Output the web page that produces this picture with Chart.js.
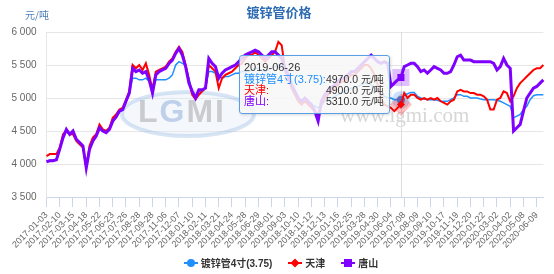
<!DOCTYPE html>
<html>
<head>
<meta charset="utf-8">
<script src="https://cdn.jsdelivr.net/npm/chart.js@4.4.1/dist/chart.umd.min.js"></script>
<style>
body { margin: 0; background: #fff; }
#wrap { position: relative; width: 554px; height: 274px; font-family: "Liberation Sans", "Noto Sans CJK SC", sans-serif; }
#legend { position: absolute; left: 4px; top: 255px; width: 554px; text-align: center; font-size: 10px; font-weight: bold; color: #333; }
.item { display: inline-block; margin: 0 8px; white-space: nowrap; }
.sym { position: relative; display: inline-block; width: 14px; height: 10px; vertical-align: -1px; margin-right: 3px; }
.sym i { position: absolute; left: 0; top: 4px; width: 14px; height: 2px; }
.sym b { position: absolute; left: 3px; top: 1px; width: 8px; height: 8px; }
#tip { position: absolute; display: none; background: rgba(247,247,247,0.85); border: 1px solid #5a9fe6; border-radius: 3px;
       box-shadow: 1px 1px 3px rgba(0,0,0,0.15); padding: 5px 5px 6px 4px; font-size: 11px; color: #333; white-space: nowrap; }
#tip .d { margin: 0 0 1px 0; color: #333; }
#tip table { border-collapse: collapse; }
#tip td { padding: 0; line-height: 11px; }
#tip td.v { font-size: 10.5px; }
#tip .u { font-size: 10px; }
</style>
</head>
<body>
<div id="wrap">
  <canvas id="chart" width="554" height="274"></canvas>
  <div id="legend"></div>
  <div id="tip"></div>
</div>
<script>
// 数据：每个刻度区间取4个点
const seriesNames = ['镀锌管4寸(3.75)', '天津', '唐山'];
const seriesColors = ['#1e90ff', '#ff0000', '#8000ff'];
const pointsPerTick = 4;

const tickLabels = [
  '2017-01-03', '2017-02-10', '2017-03-15', '2017-04-18', '2017-05-22', '2017-06-23', '2017-07-26',
  '2017-08-28', '2017-09-28', '2017-11-06', '2017-12-07', '2018-01-10', '2018-02-11', '2018-03-21',
  '2018-04-24', '2018-05-28', '2018-06-29', '2018-08-01', '2018-09-03', '2018-10-10', '2018-11-12',
  '2018-12-13', '2019-01-16', '2019-02-25', '2019-03-28', '2019-04-30', '2019-06-04', '2019-07-08',
  '2019-08-09', '2019-09-10', '2019-10-17', '2019-11-19', '2019-12-20', '2020-01-22', '2020-03-02',
  '2020-04-02', '2020-05-08', '2020-06-09'
];

// 悬停提示所在的点
const tooltipIndex = 107;
const tooltipDate = '2019-06-26';

const pipeValues = [
  4040, 4060, 4060, 4070, 4220, 4390, 4500, 4450, 4490, 4380, 4330, 4280, 3960,
  4230, 4340, 4420, 4530, 4500, 4480, 4520, 4640, 4700, 4790, 4820, 4940, 5060,
  5300, 5300, 5275, 5275, 5300, 5250, 5100, 5275, 5275, 5275, 5275, 5300, 5350, 5500, 5550,
  5525, 5500, 5300, 5100, 5000, 5100, 5100, 5150, 5400, 5400, 5375, 5325, 5300, 5325, 5325,
  5350, 5375, 5375, 5400, 5400, 5400,
  5425, 5450, 5450, 5425, 5400, 5425, 5450, 5475, 5500, 5500, 5400, 5300, 5200, 5100, 5000,
  4950, 4950, 4925, 4900, 4875, 4850, 4900, 4950, 4975, 5000, 5025, 5050, 5075, 5100, 5125,
  5150, 5150, 5175, 5200, 5225, 5225, 5200, 5150, 5100, 5050, 5025, 5000,
  5000, 4975, 4975, 4970, 5050, 5065, 5085, 5085, 5025, 5000, 4985, 4975, 4975, 4975, 4965,
  4950, 4950, 4950, 4975, 5000, 5050, 5050, 5025, 5025, 5000, 5000, 5000, 4985, 4975, 4975,
  4975, 4975, 4965, 4950, 4925, 4900, 4875, 4700, 4725, 4750, 4825, 4875, 4975, 5035, 5050,
  5050, 5050
];

const tianjinValues = [
  4120, 4150, 4150, 4150, 4250, 4450, 4500, 4450, 4450, 4350, 4300, 4250, 3960,
  4275, 4400, 4450, 4600, 4525, 4500, 4550, 4700, 4750, 4825, 4850, 4975, 5100,
  5500, 5450, 5500, 5425, 5525, 5350, 5125, 5400, 5425, 5450, 5475, 5550, 5600, 5700, 5775,
  5700, 5500, 5250, 5050, 4980, 5050, 5100, 5150, 5500, 5450, 5400, 5150, 5300, 5350, 5375,
  5400, 5450, 5500, 5525, 5600, 5650,
  5650, 5700, 5650, 5600, 5550, 5600, 5650, 5700, 5850, 5800, 5450,
  5300, 5150, 5050, 4950, 4900, 4950, 4900, 4850, 4800, 4750, 4900, 5000, 5050, 5100, 5150,
  5200, 5250, 5250, 5300, 5350, 5350, 5400, 5450, 5500, 5500, 5450, 5350, 5200, 5000, 4900, 4875,
  4850, 4800, 4850, 4900, 5075, 5000, 5050, 5050, 5000, 4975, 5000, 4975, 5000, 4975, 5000,
  4950, 4925, 4900, 4950, 4975, 5100, 5125, 5100, 5100, 5075, 5075, 5050, 5050, 5025, 4975,
  4825, 4825, 4975, 5000, 5100, 5075, 4950, 5025, 5150, 5225, 5275, 5325, 5375, 5425, 5450,
  5450, 5500
];

const tangshanValues = [
  4035, 4050, 4050, 4065, 4225, 4400, 4525, 4450, 4500, 4375, 4325, 4275, 3940,
  4225, 4350, 4425, 4550, 4500, 4475, 4525, 4650, 4715, 4800, 4825, 4950, 5075,
  5450, 5400, 5425, 5375, 5400, 5275, 5075, 5350, 5400, 5425, 5450, 5525, 5575, 5675, 5750,
  5650, 5475, 5225, 5100, 5000, 5125, 5125, 5150, 5600, 5525, 5475, 5300, 5375, 5425, 5450,
  5475, 5500, 5550, 5600, 5650, 5675,
  5700, 5725, 5700, 5650, 5600, 5650, 5700, 5700, 5650, 5600, 5450,
  5350, 5200, 5100, 5000, 4950, 5000, 4950, 4900, 4800, 4650, 4950, 5050, 5100, 5150, 5200,
  5250, 5300, 5300, 5350, 5400, 5400, 5450, 5500, 5550, 5600, 5650, 5600, 5550, 5525, 5550, 5525,
  5175, 5225, 5275, 5310, 5475, 5500, 5525, 5525, 5475, 5400, 5425, 5375, 5425, 5475, 5450,
  5425, 5375, 5375, 5400, 5500, 5625, 5650, 5575, 5575, 5575, 5550, 5550, 5550, 5550, 5550,
  5550, 5525, 5425, 5475, 5600, 5500, 5450, 4500, 4550, 4600, 4800, 5000, 5075, 5150, 5175,
  5225, 5275
];

// 类别标签：只有刻度位置和提示点有日期
const labels = pipeValues.map((v, i) => (i % pointsPerTick === 0 ? tickLabels[i / pointsPerTick] : ''));
labels[tooltipIndex] = tooltipDate;

const allValues = [pipeValues, tianjinValues, tangshanValues];
const pointStyles = ['circle', 'rectRot', 'rect'];
const lineWidths = [1.5, 2, 3];
const haloColors = ['rgba(30,144,255,0.25)', 'rgba(255,0,0,0.25)', 'rgba(128,0,255,0.25)'];

const datasets = seriesNames.map((name, k) => ({
  label: name,
  data: allValues[k],
  borderColor: seriesColors[k],
  backgroundColor: seriesColors[k],
  borderWidth: lineWidths[k],
  pointRadius: 0,
  pointStyle: pointStyles[k],
  pointHoverRadius: k === 2 ? 5 : 4,
  pointHoverBackgroundColor: seriesColors[k],
  pointHoverBorderColor: haloColors[k],
  pointHoverBorderWidth: 10,
  tension: 0,
  order: 3 - k   // 唐山画在最上面
}));

function fmtThousands(v) {
  return String(v).replace(/\B(?=(\d{3})+(?!\d))/g, ' ');
}

// 背景水印
const watermark = {
  id: 'watermark',
  beforeDatasetsDraw(chart) {
    const ctx = chart.ctx;
    ctx.save();
    ctx.globalAlpha = 0.4;
    ctx.beginPath();
    ctx.ellipse(188, 114, 66, 22, 0, 0, Math.PI * 2);
    ctx.fillStyle = '#e3ecf7';
    ctx.fill();
    ctx.lineWidth = 4;
    ctx.strokeStyle = '#9dbde3';
    ctx.stroke();
    ctx.font = 'bold 32px "Liberation Sans"';
    ctx.textBaseline = 'middle';
    ctx.textAlign = 'left';
    const letters = ['L', 'G', 'M', 'I'];
    const cols = ['#8a8a8a', '#6f97cf', '#8a8a8a', '#8a8a8a'];
    let x = 138;
    letters.forEach((ch, n) => {
      ctx.fillStyle = cols[n];
      ctx.fillText(ch, x, 113);
      x += ctx.measureText(ch).width + 2;
    });
    ctx.globalAlpha = 0.35;
    ctx.font = '21px "Liberation Serif"';
    ctx.fillStyle = '#8a8a8a';
    ctx.fillText('www.lgmi.com', 340, 116);
    ctx.restore();
  }
};

// 悬停竖线
const crosshair = {
  id: 'crosshair',
  beforeDatasetsDraw(chart) {
    const act = chart.getActiveElements();
    if (!act.length) return;
    const a = chart.chartArea;
    const x = Math.round(act[0].element.x) + 0.5;
    const ctx = chart.ctx;
    ctx.save();
    ctx.strokeStyle = '#dddddd';
    ctx.lineWidth = 1;
    ctx.beginPath();
    ctx.moveTo(x, a.top);
    ctx.lineTo(x, a.bottom);
    ctx.stroke();
    ctx.restore();
  }
};

// 标题和单位
const headings = {
  id: 'headings',
  afterDraw(chart) {
    const ctx = chart.ctx;
    ctx.save();
    ctx.textBaseline = 'middle';
    ctx.textAlign = 'center';
    ctx.fillStyle = '#2d6cb3';
    ctx.font = 'bold 13px "Noto Sans CJK SC"';
    ctx.fillText('镀锌管价格', 279, 12);
    ctx.textAlign = 'left';
    ctx.fillStyle = '#4d7eb5';
    ctx.font = '10px "Noto Sans CJK SC"';
    ctx.fillText('元/吨', 25, 15);
    ctx.restore();
  }
};

function externalTip(context) {
  const tip = document.getElementById('tip');
  const tt = context.tooltip;
  if (tt.opacity === 0 || !tt.dataPoints || !tt.dataPoints.length) {
    tip.style.display = 'none';
    return;
  }
  const pts = tt.dataPoints.slice().sort((a, b) => a.datasetIndex - b.datasetIndex);
  let html = '<div class="d">' + tt.title[0] + '</div><table>';
  pts.forEach(p => {
    html += '<tr><td style="color:' + seriesColors[p.datasetIndex] + '">' + p.dataset.label +
            ':</td><td class="v">' + p.parsed.y.toFixed(1) + ' <span class="u">元/吨</span></td></tr>';
  });
  html += '</table>';
  tip.innerHTML = html;
  tip.style.display = 'block';
  tip.style.left = Math.round(tt.caretX - 11 - tip.offsetWidth) + 'px';
  tip.style.top = (context.chart.chartArea.top + 23) + 'px';
}

const ctx = document.getElementById('chart').getContext('2d');
const chart = new Chart(ctx, {
  type: 'line',
  data: { labels: labels, datasets: datasets },
  plugins: [watermark, crosshair, headings],
  options: {
    responsive: false,
    animation: false,
    events: [],
    devicePixelRatio: 1,
    layout: { padding: { top: 32, right: 6, bottom: 0, left: 0 } },
    interaction: { mode: 'index', intersect: false },
    plugins: {
      legend: { display: false },
      title: { display: false },
      tooltip: { enabled: false, mode: 'index', intersect: false, external: externalTip }
    },
    scales: {
      x: {
        type: 'category',
        offset: false,
        afterFit: s => { s.height = 77; },
        border: { color: '#ccd6eb' },
        grid: {
          drawOnChartArea: false,
          tickLength: 10,
          color: c => (c.index % pointsPerTick === 0 ? '#ccd6eb' : 'rgba(0,0,0,0)')
        },
        ticks: {
          autoSkip: false,
          minRotation: 45,
          maxRotation: 45,
          padding: 3,
          color: '#666',
          font: { size: 9, family: '"Liberation Sans"' },
          callback: (v, i) => (i % pointsPerTick === 0 ? tickLabels[i / pointsPerTick] : '')
        }
      },
      y: {
        min: 3500,
        max: 6000,
        afterFit: s => { s.width = 46.5; },
        border: { color: '#e6e6e6' },
        grid: { color: '#e6e6e6', drawTicks: false },
        ticks: {
          stepSize: 500,
          padding: 10,
          color: '#666',
          font: { size: 10, family: '"Liberation Sans"' },
          callback: v => fmtThousands(v)
        }
      }
    }
  }
});

// 图例
const legend = document.getElementById('legend');
seriesNames.forEach((name, k) => {
  const shape = k === 0 ? 'border-radius:50%;' : (k === 1 ? 'transform:rotate(45deg) scale(0.8);' : '');
  legend.innerHTML += '<span class="item"><span class="sym"><i style="background:' + seriesColors[k] +
    '"></i><b style="background:' + seriesColors[k] + ';' + shape + '"></b></span>' + name + '</span>';
});

// 显示 2019-06-26 的提示
const active = datasets.map((d, k) => ({ datasetIndex: k, index: tooltipIndex }));
const el = chart.getDatasetMeta(0).data[tooltipIndex];
chart.setActiveElements(active);
chart.tooltip.setActiveElements(active, { x: el.x, y: el.y });
chart.render();
</script>
</body>
</html>
